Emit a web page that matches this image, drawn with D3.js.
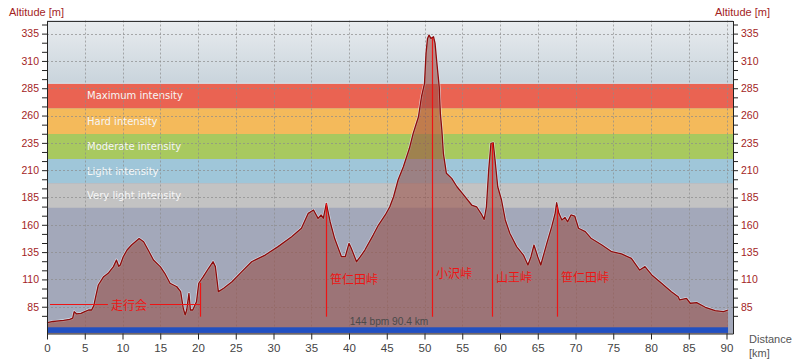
<!DOCTYPE html>
<html><head><meta charset="utf-8">
<script src="https://cdn.jsdelivr.net/npm/d3@7"></script>
<style>html,body{margin:0;padding:0;background:#fff;} svg{display:block;}</style>
</head><body>
<svg id="chart" width="800" height="364"></svg>
<script>
// ---- data ----
const distanceKm = [0.0,0.8,1.5,2.2,3.0,3.4,3.6,3.9,4.5,5.0,5.5,5.9,6.2,6.4,6.8,7.5,8.1,8.8,9.2,9.5,9.7,10.1,10.6,11.2,11.7,12.2,12.8,13.4,14.1,15.0,15.6,16.3,17.2,17.7,18.05,18.3,18.5,18.8,19.0,19.3,19.8,20.1,20.7,21.4,22.0,22.3,22.7,23.4,24.5,25.8,27.1,28.9,30.6,32.4,33.7,34.6,35.3,35.9,36.3,36.6,37.0,37.5,38.1,39.0,39.5,40.0,40.3,41.0,41.5,42.1,43.2,43.9,44.8,45.4,45.9,46.5,47.2,48.0,48.5,49.2,49.6,50.0,50.2,50.4,50.6,50.85,51.2,51.4,51.6,51.95,52.1,52.3,52.5,52.9,53.6,54.3,55.1,56.25,56.9,57.6,57.9,58.2,58.5,58.8,59.1,59.3,59.7,60.2,60.7,61.3,62.2,63.1,63.7,64.1,64.5,65.0,65.4,66.2,66.85,67.3,67.5,67.8,68.2,68.6,68.95,69.4,69.9,70.4,71.3,72.1,73.5,74.8,76.1,77.4,78.5,79.2,80.1,81.4,82.7,83.6,83.8,84.7,85.2,86.05,87.2,88.5,89.6,90.2];
const altitudeM = [70.5,71.5,72,72.5,73.5,74.5,80.5,78.5,79,80.5,82,82,86,92.7,104.9,112.5,115.6,121.7,127.8,122,123.2,130.8,136.9,141.5,144.5,147.4,144.5,136.9,127.8,121.7,115.6,106.5,103.3,98.8,83.6,77.5,82,97.3,82,82,89.6,106.5,112.5,120.2,126.2,121.7,98.8,101.9,107.9,117.1,126.2,132.3,140,149.1,156.8,170.5,173.5,165.9,169,166,179.6,162.8,147.4,130.8,130.8,143,138.5,126.2,130.8,136.9,150.6,159.8,169,176.5,185.7,201,213.1,230,243.7,258.9,277.2,289.4,316.9,330.6,333.6,330.6,332.1,326,310.8,286.3,262,246.7,225.4,207.1,202.5,194.8,188,178.1,176.5,169,165,176.5,210.1,234.5,235.1,222.3,194.8,182.7,164.4,152.2,140,132.3,123.2,130.8,141.5,130.8,123.2,143,158.3,170.5,180.2,170.5,164.4,166.8,162.8,169,168,156.8,153.7,147.4,141.5,135.4,133.3,129.3,118.6,121.7,114.1,106.5,98.8,94.2,91.2,92.7,88.2,88.7,84.5,81.4,80.5,82];

const yTickLabels = [85,110,135,160,185,210,235,260,285,310,335];
const xTickLabels = [0,5,10,15,20,25,30,35,40,45,50,55,60,65,70,75,80,85,90];

const zoneNames = ["Maximum intensity","Hard intensity","Moderate intensity","Light intensity","Very light intensity"];
const zoneTop = [289.5,266.6,243.1,220.2,198.0];
const zoneBottom = [266.6,243.1,220.2,198.0,175.6];
const zoneColors = ["#ea6352","#f4ba5b","#a8c95f","#9fc6d9","#c3c3c3"];

const passNames = ["笹仁田峠","小沢峠","山王峠","笹仁田峠"];
const passKm = [37.0,50.95,59.0,67.6];
const passLabelAlt = [111.3,115.9,113.1,113.1];
const markerBaseAlt = 75.9;

const eventName = "走行会";
const eventStartKm = 0.4, eventEndKm = 20.26, eventLabelKm = 10.85;
const eventAlt = 87.5, eventTickTopAlt = 107;

const summaryText = "144 bpm 90.4 km";

// ---- chart ----
const svg = d3.select("#chart");
const x = d3.scaleLinear().domain([0, 90.86]).range([47, 733]);
const y = d3.scaleLinear().domain([60.5, 347]).range([333.5, 20.5]);
const [x0, x1] = x.range();
const yTop = y(347), yBot = y(60.5);
const AX = "'Liberation Sans', Arial, sans-serif";

const defs = svg.append("defs");
const grad = defs.append("linearGradient").attr("id","topgrad").attr("x1",0).attr("y1",0).attr("x2",0).attr("y2",1);
grad.append("stop").attr("offset","0%").attr("stop-color","#e9ecef");
grad.append("stop").attr("offset","100%").attr("stop-color","#c9d4dc");

// background below zones
svg.append("rect").attr("x",x0).attr("y",yTop).attr("width",x1-x0).attr("height",yBot-yTop).attr("fill","#a3a8ba");
svg.append("rect").attr("x",x0).attr("y",yTop).attr("width",x1-x0).attr("height",y(zoneTop[0])-yTop).attr("fill","url(#topgrad)");

// zones
svg.selectAll("rect.zone").data(zoneNames).enter().append("rect")
  .attr("class","zone")
  .attr("x",x0).attr("width",x1-x0)
  .attr("y",(d,i)=>y(zoneTop[i]))
  .attr("height",(d,i)=>y(zoneBottom[i])-y(zoneTop[i]))
  .attr("fill",(d,i)=>zoneColors[i]);
svg.append("line").attr("x1",x0).attr("x2",x1).attr("y1",y(zoneTop[0])).attr("y2",y(zoneTop[0]))
  .attr("stroke","#d6e6ee").attr("stroke-width",1);

svg.selectAll("text.zone").data(zoneNames).enter().append("text")
  .attr("x",87).attr("y",(d,i)=>(y(zoneTop[i])+y(zoneBottom[i]))/2)
  .attr("dominant-baseline","central")
  .attr("font-family","'DejaVu Sans', Verdana, sans-serif").attr("font-size",10)
  .attr("fill","#f6f6f6").text(d=>d);

// grid
const grid = svg.append("g").attr("stroke","#8c8c8c").attr("stroke-opacity",0.7).attr("stroke-dasharray","2,2").attr("stroke-width",1);
xTickLabels.filter(d=>d>0).forEach(d=>{
  grid.append("line").attr("x1",Math.round(x(d))+0.5).attr("x2",Math.round(x(d))+0.5).attr("y1",yTop).attr("y2",yBot);
});
yTickLabels.forEach(d=>{
  grid.append("line").attr("y1",Math.round(y(d))+0.5).attr("y2",Math.round(y(d))+0.5).attr("x1",x0).attr("x2",x1);
});

// profile
const pts = distanceKm.map((d,i)=>[d, altitudeM[i]]);
const area = d3.area().x(d=>x(d[0])).y0(yBot).y1(d=>y(d[1]));
const line = d3.line().x(d=>x(d[0])).y(d=>y(d[1]));
svg.append("path").datum(pts).attr("d",line).attr("fill","none").attr("stroke","#e4eef6").attr("stroke-opacity",0.75).attr("stroke-width",2.6).attr("stroke-linejoin","round");
svg.append("path").datum(pts).attr("d",area).attr("fill","#974b42").attr("fill-opacity",0.56);
svg.append("path").datum(pts).attr("d",line).attr("fill","none").attr("stroke","#8e0c0c").attr("stroke-width",1.3).attr("stroke-linejoin","round");

// heart-rate bar at bottom
svg.append("rect").attr("x",x0).attr("y",327.3).attr("width",x(distanceKm[distanceKm.length-1])-x0).attr("height",5.6).attr("fill","#2150c2");

// annotations
const RED = "#ee1414";
const JP = "'Noto Sans CJK JP', sans-serif";
function altAt(km){
  const i = d3.bisector(d=>d).left(distanceKm, km);
  if (i<=0) return altitudeM[0];
  if (i>=distanceKm.length) return altitudeM[altitudeM.length-1];
  const t = (km-distanceKm[i-1])/(distanceKm[i]-distanceKm[i-1]);
  return altitudeM[i-1] + t*(altitudeM[i]-altitudeM[i-1]);
}
passNames.forEach((name,i)=>{
  const px = Math.round(x(passKm[i]))+0.5;
  svg.append("line").attr("x1",px).attr("x2",px).attr("y1",y(altAt(passKm[i]))).attr("y2",y(markerBaseAlt))
    .attr("stroke",RED).attr("stroke-width",1.2);
  svg.append("text").attr("x",px+3.5).attr("y",y(passLabelAlt[i])).attr("dominant-baseline","central")
    .attr("font-family",JP).attr("font-size",12).attr("fill",RED).text(name);
});
const evText = svg.append("text").attr("x",x(eventLabelKm)).attr("y",y(eventAlt)).attr("text-anchor","middle")
  .attr("dominant-baseline","central").attr("font-family",JP).attr("font-size",12).attr("fill",RED).text(eventName);
const bb = evText.node().getBBox();
const ey = Math.round(y(eventAlt))+0.5;
svg.append("line").attr("x1",x(eventStartKm)).attr("x2",bb.x-3).attr("y1",ey).attr("y2",ey).attr("stroke",RED).attr("stroke-width",1.2);
svg.append("line").attr("x1",bb.x+bb.width+3).attr("x2",x(eventEndKm)).attr("y1",ey).attr("y2",ey).attr("stroke",RED).attr("stroke-width",1.2);
const ex = Math.round(x(eventEndKm))+0.5;
svg.append("line").attr("x1",ex).attr("x2",ex).attr("y1",y(eventTickTopAlt)).attr("y2",y(markerBaseAlt)).attr("stroke",RED).attr("stroke-width",1.2);

svg.append("text").attr("x",(x0+x1)/2-1).attr("y",321).attr("text-anchor","middle").attr("dominant-baseline","central")
  .attr("font-family",AX).attr("font-size",10.2).attr("fill","#4a4a4a").text(summaryText);

// axes
const minorTicks = d3.range(-1, 34).map(k=>85 + k*25/3).filter(v=>v>=y.domain()[0] && v<=y.domain()[1]);
const isMajor = v => yTickLabels.some(t=>Math.abs(t-v)<1e-6);
const fmtY = v => isMajor(v) ? d3.format("d")(Math.round(v)) : "";

function styleAxis(g, color, size){
  g.selectAll("path.domain").attr("stroke","#222");
  g.selectAll(".tick line").attr("stroke","#222");
  g.selectAll(".tick text").attr("fill",color).attr("font-family",AX).attr("font-size",size);
}
const gl = svg.append("g").attr("transform",`translate(${x0},0)`)
  .call(d3.axisLeft(y).tickValues(minorTicks).tickSize(5).tickSizeOuter(0).tickPadding(3).tickFormat(fmtY));
styleAxis(gl,"#a3241e",10.5);
const gr = svg.append("g").attr("transform",`translate(${x1},0)`)
  .call(d3.axisRight(y).tickValues(minorTicks).tickSize(5).tickSizeOuter(0).tickPadding(3).tickFormat(fmtY));
styleAxis(gr,"#a3241e",10.5);
const gb = svg.append("g").attr("transform",`translate(0,${yBot})`)
  .call(d3.axisBottom(x).tickValues(xTickLabels).tickSize(6).tickSizeOuter(0).tickPadding(4).tickFormat(d3.format("d")));
styleAxis(gb,"#444",11.5);

// top frame
svg.append("line").attr("x1",x0).attr("x2",x1+0.5).attr("y1",Math.round(yTop)+0.5).attr("y2",Math.round(yTop)+0.5).attr("stroke","#333");

// titles
svg.append("text").attr("x",9).attr("y",16).attr("font-family",AX).attr("font-size",11).attr("fill","#a3241e").text("Altitude [m]");
svg.append("text").attr("x",770).attr("y",16).attr("text-anchor","end").attr("font-family",AX).attr("font-size",11).attr("fill","#a3241e").text("Altitude [m]");
svg.append("text").attr("x",749).attr("y",343).attr("font-family",AX).attr("font-size",11).attr("fill","#555").text("Distance");
svg.append("text").attr("x",749).attr("y",357).attr("font-family",AX).attr("font-size",11).attr("fill","#555").text("[km]");
</script>
</body></html>
